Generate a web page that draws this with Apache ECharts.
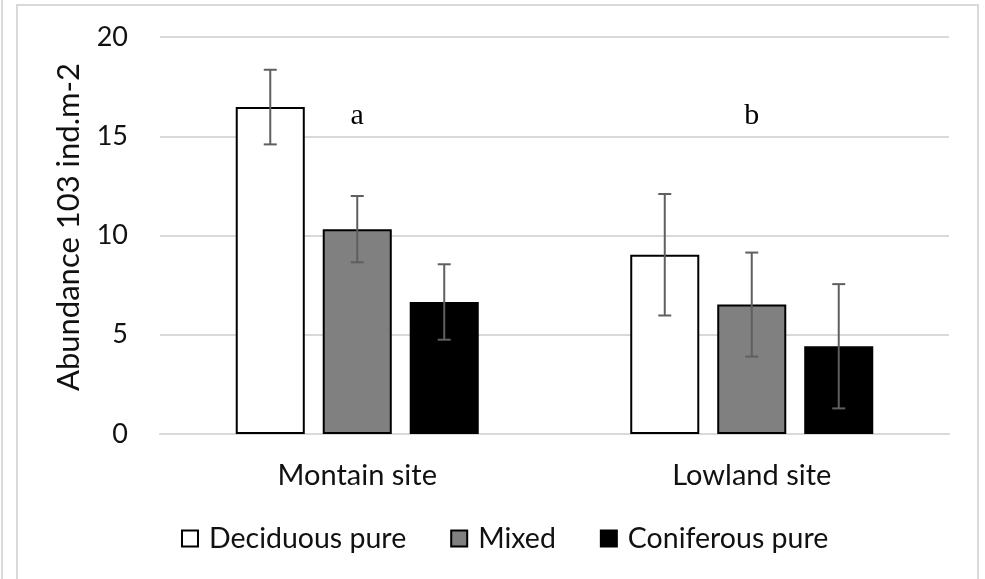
<!DOCTYPE html>
<html><head><meta charset="utf-8">
<script src="https://cdn.jsdelivr.net/npm/echarts@6/dist/echarts.min.js"></script>
<style>html,body{margin:0;padding:0;background:#fff}#c{width:985px;height:579px}</style>
</head><body><div id="c"></div>
<script>
const categories = ['Montain site', 'Lowland site'];
const seriesNames = ['Deciduous pure', 'Mixed', 'Coniferous pure'];
const deciduous = [16.47, 9.03];
const mixed = [10.32, 6.52];
const coniferous = [6.65, 4.42];
const deciduousErr = [1.88, 3.06];
const mixedErr = [1.67, 2.62];
const coniferousErr = [1.9, 3.13];
const annotations = ['a', 'b'];
const annotationY = [16.0, 16.0];
const yMin = 0, yMax = 20, yStep = 5;

const values = [deciduous, mixed, coniferous];
const errs = [deciduousErr, mixedErr, coniferousErr];
const fills = ['#ffffff', '#808080', '#000000'];
const FONT = 'Lato';
const BARW = 0.175, GAP = 0.26;

const errData = [];
values.forEach((arr, k) => arr.forEach((v, i) => errData.push([i, v, errs[k][i], k])));

function errRender(params, api) {
  const cat = api.value(0), v = api.value(1), e = api.value(2), k = api.value(3);
  const band = api.size([1, 0])[0];
  const bw = band * BARW, step = bw * (1 + GAP);
  const x = api.coord([cat, v])[0] + (k - 1) * step;
  const top = api.coord([cat, v + e])[1], bot = api.coord([cat, v - e])[1];
  const cap = 6.5, st = { stroke: '#5f5f5f', lineWidth: 2 };
  return { type: 'group', children: [
    { type: 'line', shape: { x1: x, y1: top, x2: x, y2: bot }, style: st },
    { type: 'line', shape: { x1: x - cap, y1: top, x2: x + cap, y2: top }, style: st },
    { type: 'line', shape: { x1: x - cap, y1: bot, x2: x + cap, y2: bot }, style: st }
  ]};
}
function annRender(params, api) {
  const p = api.coord([api.value(0), api.value(1)]);
  return { type: 'text', x: p[0], y: p[1], style: { text: annotations[params.dataIndex], font: '30px "Liberation Serif"', fill: '#000', align: 'center', verticalAlign: 'middle' } };
}

const chart = echarts.init(document.getElementById('c'));
chart.setOption({
  animation: false,
  backgroundColor: '#fff',
  graphic: [
    { type: 'rect', shape: { x: 17, y: 5, width: 961, height: 620 }, style: { fill: 'none', stroke: '#d9d9d9', lineWidth: 2 }, silent: true },
    { type: 'line', shape: { x1: 2, y1: 0, x2: 2, y2: 579 }, style: { stroke: '#d9d9d9', lineWidth: 2 }, silent: true }
  ],
  grid: { left: 160, right: 36, top: 37, bottom: 145 },
  legend: {
    left: 181, top: 524, padding: 0, icon: 'rect', itemWidth: 16, itemHeight: 16, itemGap: 44,
    textStyle: { fontFamily: FONT, fontSize: 28.5, color: '#111', padding: [0, 0, 0, 6] },
    data: seriesNames
  },
  xAxis: {
    type: 'category', data: categories,
    axisLine: { lineStyle: { color: '#d9d9d9', width: 2 } },
    axisTick: { show: false },
    axisLabel: { fontFamily: FONT, fontSize: 29, color: '#111', margin: 27 }
  },
  yAxis: {
    type: 'value', min: yMin, max: yMax, interval: yStep,
    name: 'Abundance 103 ind.m-2', nameLocation: 'middle', nameGap: 76,
    nameTextStyle: { fontFamily: FONT, fontSize: 31, color: '#111', padding: [0, 0, 0, 17] },
    axisLine: { show: false }, axisTick: { show: false },
    splitLine: { lineStyle: { color: '#d9d9d9', width: 2 } },
    axisLabel: { fontFamily: FONT, fontSize: 27, color: '#111', margin: 32 }
  },
  series: [
    ...seriesNames.map((n, k) => ({
      name: n, type: 'bar', data: values[k],
      barWidth: (BARW * 100) + '%', barGap: (GAP * 100) + '%',
      itemStyle: { color: fills[k], borderColor: '#000', borderWidth: 2 }
    })),
    { type: 'custom', renderItem: errRender, data: errData, z: 5, silent: true },
    { type: 'custom', renderItem: annRender, data: annotations.map((a, i) => [i, annotationY[i]]), z: 5, silent: true }
  ]
});
</script></body></html>
